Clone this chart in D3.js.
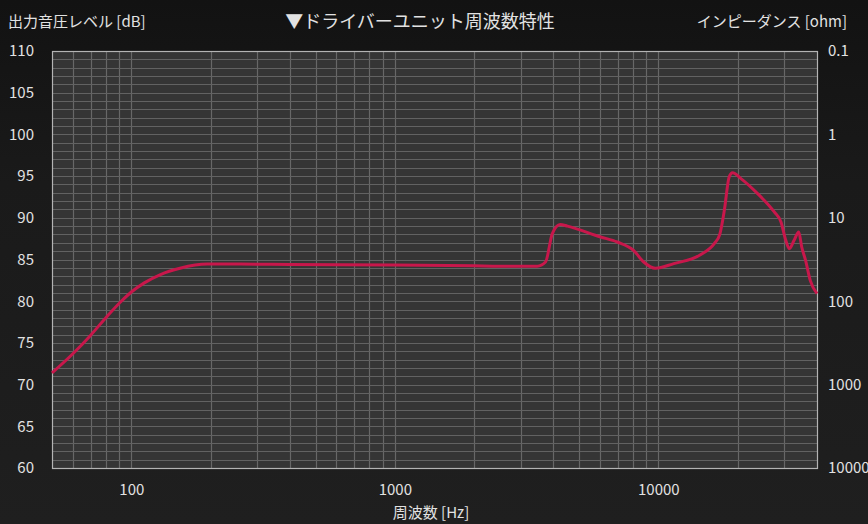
<!DOCTYPE html>
<html>
<head>
<meta charset="utf-8">
<script src="https://cdn.jsdelivr.net/npm/d3@7"></script>
<style>
  html, body { margin: 0; padding: 0; background: #1a1a1a; }
  svg { display: block; }
  text { font-family: "Noto Sans CJK JP", "Noto Sans", sans-serif; fill: #e2e2e2; }
</style>
</head>
<body>
<div id="chartDiv"></div>
<script>
// frequency response (Hz, dB)
var freqHz = [50, 60, 70, 81, 91, 100, 112, 129, 153, 194, 260, 400, 1000, 2000, 2500, 3470,
  3730, 3960, 4240, 4520, 6040, 6980, 8050, 8800, 9740, 11440, 14500, 16300, 17100, 17800,
  18570, 19130, 20580, 23800, 27540, 29200, 30450, 31400, 32750, 34100, 35000, 36200, 37700, 40000];
var splDb = [71.4, 73.7, 75.9, 78.2, 79.9, 81.1, 82.2, 83.2, 83.95, 84.45, 84.45, 84.4, 84.35, 84.25, 84.2, 84.2,
  84.7, 88.1, 89.2, 89.0, 87.7, 87.1, 86.1, 84.7, 83.95, 84.5, 85.6, 86.9, 88.0, 90.9,
  94.9, 95.4, 94.7, 92.9, 90.7, 89.5, 87.3, 86.3, 87.3, 88.3, 86.5, 84.9, 82.5, 80.9];

var xTickLabels = [100, 1000, 10000];
var dbTicks = [60, 65, 70, 75, 80, 85, 90, 95, 100, 105, 110];
var ohmTicks = [0.1, 1, 10, 100, 1000, 10000];

var titleText = "▼ドライバーユニット周波数特性";
var leftTitle = "出力音圧レベル [dB]";
var rightTitle = "インピーダンス [ohm]";
var xTitle = "周波数 [Hz]";

var width = 868, height = 524;
var margin = { top: 51, right: 51, bottom: 56, left: 52 };
var chartWidth = width - margin.left - margin.right;
var chartHeight = height - margin.top - margin.bottom;

var svg = d3.select("#chartDiv").append("svg")
  .attr("width", width)
  .attr("height", height);

var grad = svg.append("defs").append("linearGradient")
  .attr("id", "bg").attr("x1", 0).attr("y1", 0).attr("x2", 0).attr("y2", 1);
grad.append("stop").attr("offset", "0").attr("stop-color", "#121212");
grad.append("stop").attr("offset", "0.35").attr("stop-color", "#1a1a1a");
grad.append("stop").attr("offset", "1").attr("stop-color", "#1f1f1f");

svg.append("rect").attr("width", width).attr("height", height).attr("fill", "url(#bg)");

var xScale = d3.scaleLog().domain([50, 40000]).range([0, chartWidth]);
var yScale = d3.scaleLinear().domain([60, 110]).range([chartHeight, 0]);
var ohmScale = d3.scaleLog().domain([10000, 0.1]).range([chartHeight, 0]);

var plot = svg.append("g")
  .attr("transform", "translate(" + margin.left + "," + margin.top + ")");

plot.append("rect")
  .attr("width", chartWidth).attr("height", chartHeight)
  .attr("fill", "#353535");

// grid
var xGrid = [];
[10, 100, 1000, 10000].forEach(function(dec) {
  for (var k = 1; k <= 9; k++) {
    var f = dec * k;
    if (f > 50 && f < 40000) xGrid.push(f);
  }
});
plot.selectAll(".vgrid").data(xGrid).enter().append("line")
  .attr("class", "vgrid")
  .attr("x1", function(d) { return Math.round(xScale(d)) + 0.5; })
  .attr("x2", function(d) { return Math.round(xScale(d)) + 0.5; })
  .attr("y1", 0).attr("y2", chartHeight)
  .attr("stroke", "#676767").attr("stroke-width", 1.2);

plot.selectAll(".hgrid").data(d3.range(61, 110)).enter().append("line")
  .attr("class", "hgrid")
  .attr("x1", 0).attr("x2", chartWidth)
  .attr("y1", function(d) { return Math.round(yScale(d)) + 0.5; })
  .attr("y2", function(d) { return Math.round(yScale(d)) + 0.5; })
  .attr("stroke", "#626262").attr("stroke-width", 1.2);

plot.append("rect")
  .attr("x", 0.5).attr("y", 0.5)
  .attr("width", chartWidth).attr("height", chartHeight)
  .attr("fill", "none").attr("stroke", "#b4b4b4").attr("stroke-width", 1.2);

// curve
var points = freqHz.map(function(f, i) { return [xScale(f), yScale(splDb[i])]; });
plot.append("path")
  .attr("d", d3.line().curve(d3.curveMonotoneX)(points))
  .attr("fill", "none")
  .attr("stroke", "#c8174b")
  .attr("stroke-width", 3)
  .attr("stroke-linejoin", "round");

// axes
var leftAxis = svg.append("g")
  .attr("transform", "translate(" + (margin.left - 18) + "," + margin.top + ")")
  .call(d3.axisLeft(yScale).tickValues(dbTicks).tickSize(0).tickPadding(0));
var rightAxis = svg.append("g")
  .attr("transform", "translate(" + (margin.left + chartWidth + 11) + "," + margin.top + ")")
  .call(d3.axisRight(ohmScale).tickValues(ohmTicks).tickSize(0).tickPadding(0)
    .tickFormat(function(d) { return String(d); }));
var bottomAxis = svg.append("g")
  .attr("transform", "translate(" + margin.left + "," + (margin.top + chartHeight + 16) + ")")
  .call(d3.axisBottom(xScale).tickValues(xTickLabels).tickSize(0).tickPadding(0)
    .tickFormat(function(d) { return String(d); }));

[leftAxis, rightAxis, bottomAxis].forEach(function(ax) {
  ax.select(".domain").remove();
  ax.selectAll("text").attr("font-size", "15px").style("fill", "#e2e2e2")
    .attr("font-family", "'Noto Sans CJK JP', sans-serif");
});
bottomAxis.selectAll("text").attr("dy", "0.35em").attr("y", 6);

// titles
svg.append("text").attr("x", 8).attr("y", 22).attr("dy", "0.35em")
  .attr("font-size", "15px").text(leftTitle);
svg.append("text").attr("x", 420).attr("y", 22).attr("dy", "0.35em")
  .attr("text-anchor", "middle").attr("font-size", "18px").text(titleText);
svg.append("text").attr("x", 847).attr("y", 22).attr("dy", "0.35em")
  .attr("text-anchor", "end").attr("font-size", "15px").text(rightTitle);
svg.append("text").attr("x", 431).attr("y", 513).attr("dy", "0.35em")
  .attr("text-anchor", "middle").attr("font-size", "15px").text(xTitle);
</script>
</body>
</html>
